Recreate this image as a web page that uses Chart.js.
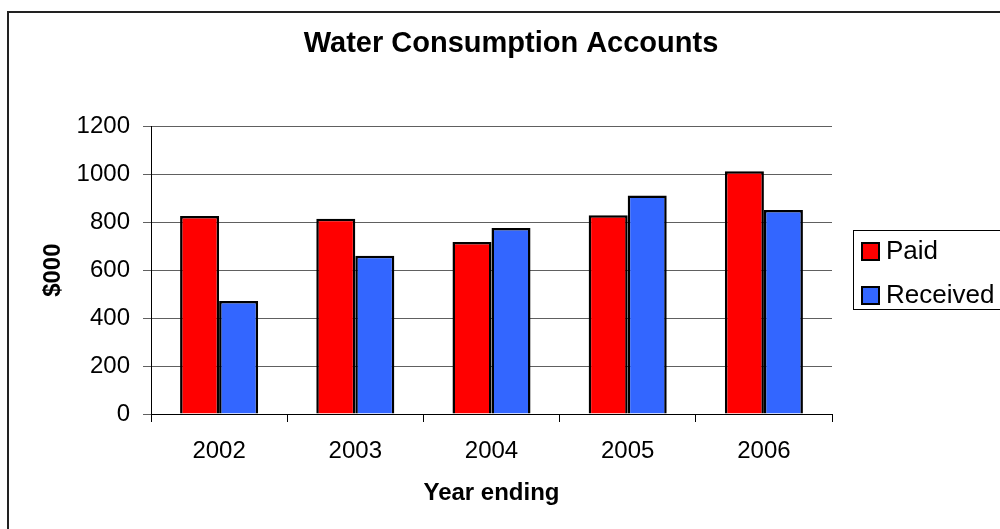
<!DOCTYPE html>
<html>
<head>
<meta charset="utf-8">
<script src="https://cdn.jsdelivr.net/npm/chart.js@4/dist/chart.umd.min.js"></script>
<style>
  html, body { margin: 0; padding: 0; background: #ffffff; }
  #wrap { width: 1000px; height: 529px; position: relative; }
</style>
</head>
<body>
<div id="wrap"><canvas id="c" width="1000" height="529"></canvas></div>
<script>
const categories = ['2002', '2003', '2004', '2005', '2006'];
const paidValues = [826, 814, 717, 829, 1012];
const receivedValues = [471, 660, 776, 911, 851];
const seriesNames = ['Paid', 'Received'];
const yTicks = [0, 200, 400, 600, 800, 1000, 1200];

const FONT = '"Liberation Sans", Arial, Helvetica, sans-serif';

const frameAndLegend = {
  id: 'frameAndLegend',
  beforeDraw(chart) {
    const ctx = chart.ctx;
    ctx.save();
    ctx.fillStyle = '#ffffff';
    ctx.fillRect(0, 0, chart.width, chart.height);
    ctx.strokeStyle = '#222222';
    ctx.lineWidth = 2;
    ctx.strokeRect(8, 12, 1010, 560);
    ctx.restore();
  },
  afterDraw(chart) {
    const ctx = chart.ctx;
    ctx.save();
    ctx.strokeStyle = '#000000';
    ctx.lineWidth = 1;
    ctx.strokeRect(853.5, 230.5, 170, 79);
    ctx.font = '26px ' + FONT;
    ctx.textBaseline = 'middle';
    ctx.textAlign = 'left';
    chart.data.datasets.forEach((ds, i) => {
      const cy = 251 + i * 44;
      ctx.fillStyle = ds.backgroundColor;
      ctx.fillRect(862, cy - 8, 17, 17);
      ctx.lineWidth = 2;
      ctx.strokeStyle = '#000000';
      ctx.strokeRect(862, cy - 8, 17, 17);
      ctx.fillStyle = '#000000';
      ctx.fillText(ds.label, 886, cy + 1);
    });
    ctx.restore();
  }
};

new Chart(document.getElementById('c'), {
  type: 'bar',
  data: {
    labels: categories,
    datasets: [
      { label: seriesNames[0], data: paidValues, backgroundColor: '#FF0000', borderColor: '#000000', borderWidth: 2.5 },
      { label: seriesNames[1], data: receivedValues, backgroundColor: '#3366FF', borderColor: '#000000', borderWidth: 2.5 }
    ]
  },
  options: {
    responsive: false,
    animation: false,
    layout: { padding: { left: 22, right: 0, top: 0, bottom: 0 } },
    datasets: { bar: { categoryPercentage: 0.573, barPercentage: 1.0 } },
    plugins: {
      legend: { display: false },
      tooltip: { enabled: false },
      title: {
        display: true,
        text: 'Water Consumption Accounts',
        color: '#000000',
        font: { family: FONT, size: 29, weight: 'bold', lineHeight: 1.2 },
        padding: { top: 27, bottom: 64.5 }
      }
    },
    scales: {
      x: {
        type: 'category',
        grid: { display: true, offset: true, drawOnChartArea: false, drawTicks: true, tickLength: 8, color: '#000000', lineWidth: 1 },
        border: { display: true, color: '#000000', width: 1 },
        ticks: { color: '#000000', font: { family: FONT, size: 24 }, padding: 15, maxRotation: 0 },
        title: { display: true, text: 'Year ending', color: '#000000', font: { family: FONT, size: 24, weight: 'bold', lineHeight: 1.2 }, padding: { top: 0, bottom: 21.6 } },
        afterFit(s) { s.height = 115; }
      },
      y: {
        type: 'linear',
        min: 0,
        max: 1200,
        afterBuildTicks(s) { s.ticks = yTicks.map(v => ({ value: v })); },
        grid: { display: true, drawOnChartArea: true, drawTicks: true, tickLength: 8, color: '#606060', lineWidth: 1 },
        border: { display: true, color: '#000000', width: 1 },
        ticks: { color: '#000000', font: { family: FONT, size: 24 }, padding: 13, callback: v => String(v) },
        title: { display: true, text: '$000', color: '#000000', font: { family: FONT, size: 24, weight: 'bold', lineHeight: 1.2 }, padding: { top: 16.5, bottom: 0 } },
        afterFit(s) { s.width = 129; }
      },
      yRight: {
        type: 'linear',
        position: 'right',
        display: true,
        grid: { display: false, drawTicks: false },
        border: { display: false },
        ticks: { display: false },
        afterFit(s) { s.width = 168; }
      }
    }
  },
  plugins: [frameAndLegend]
});
</script>
</body>
</html>
